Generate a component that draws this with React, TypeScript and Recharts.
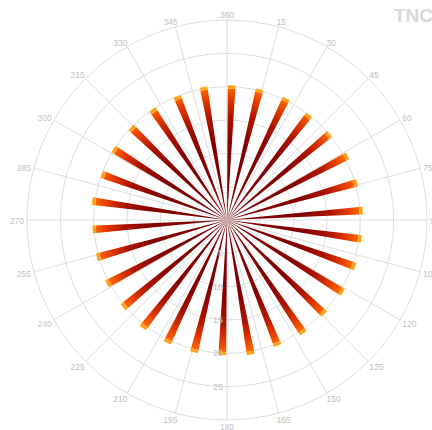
import {
  RadialBarChart,
  RadialBar,
  PolarAngleAxis,
  PolarRadiusAxis,
  PolarGrid,
} from "recharts";

// 30 direction bins, 12 degrees apart
const DIRECTIONS = [
  0, 12, 24, 36, 48, 60, 72, 84, 96, 108, 120, 132, 144, 156, 168,
  180, 192, 204, 216, 228, 240, 252, 264, 276, 288, 300, 312, 324, 336, 348,
];
// dark-red to orange body of each bar
const BODY = [
  19.75, 19.7, 19.7, 19.8, 19.5, 19.6, 20.0, 19.8, 19.9, 19.85, 19.95, 20.0, 19.8, 20.0, 19.8,
  20.0, 19.8, 19.95, 20.0, 20.05, 19.85, 19.9, 19.8, 19.7, 19.9, 19.5, 19.6, 19.5, 19.5, 19.5,
];
// bright orange tip stacked on top
const CAP = [
  0.5, 0.5, 0.5, 0.5, 0.5, 0.5, 0.5, 0.5, 0.5, 0.5, 0.5, 0.5, 0.5, 0.5, 0.5,
  0.5, 0.5, 0.5, 0.5, 0.5, 0.5, 0.5, 0.5, 0.5, 0.5, 0.5, 0.5, 0.5, 0.5, 0.5,
];
const DEGREE_TICKS = [0, 15, 30, 45, 60, 75, 90, 105, 120, 135, 150, 165, 180, 195, 210, 225, 240, 255, 270, 285, 300, 315, 330, 345];
const RADIUS_TICKS = [0, 5, 10, 15, 20, 25, 30];

const W = 432;
const H = 430;
const CX = 227;
const CY = 220;
const R = 200;
const GRID = "#dedede";
const LABEL = "#c2c2c2";
const FONT = "'Liberation Sans', Arial, sans-serif";

const data = DIRECTIONS.map((dir, i) => ({
  dir: String(dir),
  deg: dir,
  body: BODY[i],
  cap: CAP[i],
}));

// compass labels sit just outside the outer ring, anchored away from the centre
function DegreeTick(props: any) {
  const v = props.payload.value as number;
  const rad = (v * Math.PI) / 180;
  const s = Math.sin(rad);
  const c = Math.cos(rad);
  const px = CX + R * s;
  const py = CY - R * c;
  const as = Math.abs(s);
  const shift = 3 * as - 4 * (1 - as);
  let anchor: "start" | "end" | "middle" = "middle";
  let x = px;
  if (s > 0.01) {
    anchor = "start";
    x = px + shift;
  } else if (s < -0.01) {
    anchor = "end";
    x = px - shift;
  }
  return (
    <text x={x} y={py + 4 - 6 * c} textAnchor={anchor} fill={LABEL} fontSize={8.5} fontFamily={FONT}>
      {v === 0 ? "360" : v}
    </text>
  );
}

function DownTick(props: any) {
  const v = props.payload.value;
  if (v === 0 || v === 30) return <g />;
  return (
    <text x={props.x - 4} y={props.y + 3} textAnchor="end" fill={LABEL} fontSize={9} fontFamily={FONT}>
      {v}
    </text>
  );
}

function RightTick(props: any) {
  const v = props.payload.value;
  if (v === 0 || v === 30) return <g />;
  return (
    <text x={props.x} y={props.y + 11} textAnchor="middle" fill={LABEL} fontSize={9} fontFamily={FONT}>
      {v}
    </text>
  );
}

export default function App() {
  return (
    <div style={{ position: "absolute", left: 0, top: 0, width: W, height: H, background: "#fff" }}>
      <RadialBarChart
        width={W}
        height={H}
        data={data}
        layout="centric"
        cx={CX}
        cy={CY}
        innerRadius={0}
        outerRadius={R}
        startAngle={94.35}
        endAngle={-265.65}
        margin={{ top: 0, right: 0, bottom: 0, left: 0 }}
      >
        <defs>
          <radialGradient id="barGrad" gradientUnits="userSpaceOnUse" cx={CX} cy={CY} r={133}>
            <stop offset="0%" stopColor="#780000" />
            <stop offset="58%" stopColor="#860000" />
            <stop offset="78%" stopColor="#ad1400" />
            <stop offset="91%" stopColor="#e23a00" />
            <stop offset="100%" stopColor="#ff6800" />
          </radialGradient>
        </defs>
        <PolarGrid gridType="circle" angleAxisId="deg" stroke={GRID} strokeWidth={1} />
        <PolarAngleAxis dataKey="dir" type="category" tick={false} tickLine={false} axisLine={false} />
        <PolarAngleAxis
          angleAxisId="deg"
          dataKey="deg"
          type="number"
          domain={[-4.35, 355.65]}
          ticks={DEGREE_TICKS}
          allowDataOverflow
          tick={DegreeTick}
          tickLine={false}
          axisLine={false}
        />
        <PolarRadiusAxis
          type="number"
          angle={-90}
          domain={[0, 30]}
          ticks={RADIUS_TICKS}
          tick={DownTick}
          tickLine={false}
          axisLine={false}
        />
        <PolarRadiusAxis
          radiusAxisId="right"
          type="number"
          angle={0}
          domain={[0, 30]}
          ticks={RADIUS_TICKS}
          tick={RightTick}
          tickLine={false}
          axisLine={false}
        />
        <RadialBar dataKey="body" stackId="a" barSize={3.3} fill="url(#barGrad)" isAnimationActive={false} />
        <RadialBar dataKey="cap" stackId="a" barSize={3.3} fill="#ffa21a" isAnimationActive={false} />
      </RadialBarChart>
      <div
        style={{
          position: "absolute",
          left: 394,
          top: 5,
          fontFamily: FONT,
          fontWeight: "bold",
          fontSize: 19,
          color: "#d9d9d9",
          whiteSpace: "nowrap",
        }}
      >
        TNC
      </div>
    </div>
  );
}
